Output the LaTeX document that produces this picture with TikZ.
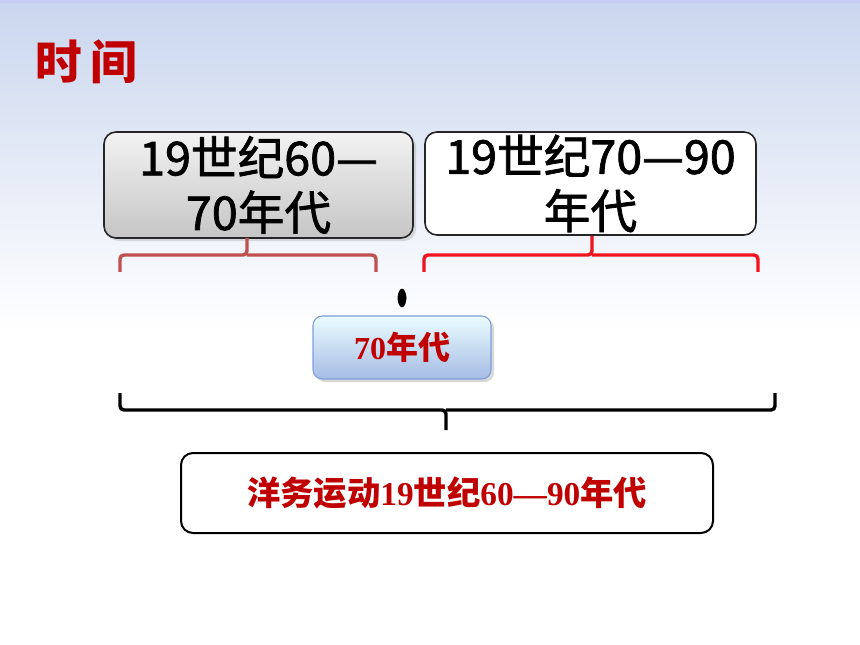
\documentclass[tikz,border=0pt]{standalone}
\usepackage{fontspec}
\setmainfont{Liberation Serif}
\newfontfamily\hei{Noto Sans CJK SC}
\newfontfamily\heimid{Noto Sans CJK SC}[FakeBold=1.6]
\usetikzlibrary{positioning,shapes.geometric,shadows}
\definecolor{titlered}{HTML}{C00000}
\definecolor{bracered}{HTML}{C0504D}
\definecolor{brightred}{HTML}{F0141E}
\definecolor{bgblue}{HTML}{CAD6EE}
\definecolor{boxblue}{HTML}{7F9FD9}
\tikzset{
    period/.style={rounded corners=9pt,draw=black!85,line width=1.2pt,align=center,inner sep=0pt,
        font=\heimid\fontsize{35}{41}\selectfont},
    answer/.style={rounded corners=9pt,draw=black,line width=1.5pt,inner sep=0pt,
        font=\bfseries\fontsize{25}{30}\selectfont,text=titlered},
    brace/.style={line width=2.6pt,rounded corners=3pt}
}
\newcommand{\zh}[1]{{\hei\bfseries #1}}

\begin{document}
\begin{tikzpicture}[x=0.75pt,y=-0.75pt]

    % background
    \useasboundingbox (0,0) rectangle (860,645);
    \fill[white] (0,0) rectangle (860,645);
    \shade[top color=bgblue,bottom color=white] (0,0) rectangle (860,330);
    \fill[bgblue!80!blue!60] (0,0) rectangle (860,3);

    \node[text=titlered,anchor=west,font=\hei\bfseries\fontsize{35}{38}\selectfont] (title) at (31,62) {时\hspace{6pt}间};

    \node[period,minimum width=231.75pt,minimum height=79.5pt,top color=gray!10,bottom color=gray!45,
          drop shadow={opacity=0.25}] (early) at (258.5,185) {19世纪60—\\70年代};
    \node[period,minimum width=248.25pt,minimum height=77.25pt,fill=white] (late) at (590.5,183.5) {19世纪70—90\\年代};

    % braces under the periods
    \coordinate (early tip) at (247,238);
    \coordinate (late tip) at (592,236);
    \draw[brace,bracered] (120,272) |- (247,255) -- (early tip);
    \draw[brace,bracered] (247,255) -| (376,272);
    \draw[brace,brightred] (424,272) |- (592,255) -- (late tip);
    \draw[brace,brightred] (592,255) -| (758,272);

    \node[ellipse,fill=black,draw=white,line width=1.2pt,minimum width=8pt,minimum height=15.5pt,inner sep=0pt] (dot) at (402,298) {};

    \node[answer,draw=boxblue,line width=0.8pt,rounded corners=7pt,minimum width=133.5pt,minimum height=47.25pt,
          top color=blue!12!cyan!8,bottom color=boxblue!70,font=\bfseries\fontsize{24}{28}\selectfont,
          drop shadow={opacity=0.3}] (mid) at (402,347.5) {70\zh{年代}};

    \coordinate (whole tip) at (446,430);
    \draw[brace,black] (120,393) |- (446,410) -- (whole tip);
    \draw[brace,black] (446,410) -| (775,393);

    \node[answer,minimum width=399pt,minimum height=60pt,fill=white] (whole) at (447,493)
        {\zh{洋务运动}19\zh{世纪}60—90\zh{年代}};

\end{tikzpicture}
\end{document}
